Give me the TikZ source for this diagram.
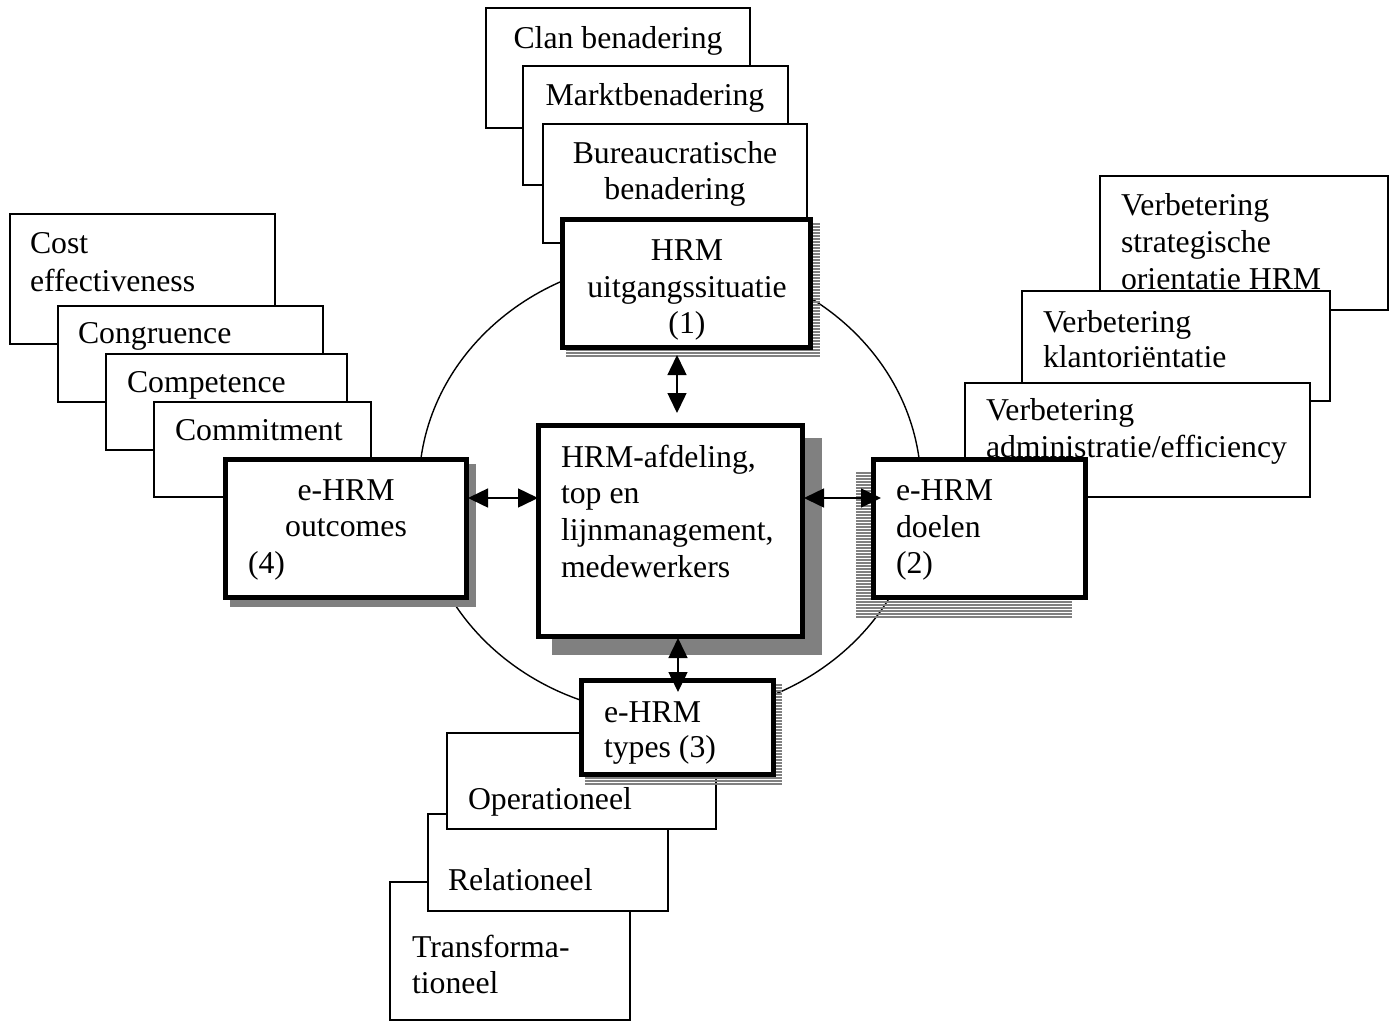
\documentclass[tikz,border=0pt]{standalone}
\usepackage{fontspec}
\setmainfont{Liberation Serif}
\usetikzlibrary{arrows.meta}
\newcommand\bigf{\fontsize{31.75}{36.5}\selectfont}
\newcommand\mystripes[4]{%
  \begin{scope}
    \clip (#1,#2) rectangle (#3,#4);
    \pgfmathsetmacro\ystart{#2+1}
    \pgfmathsetmacro\ynext{#2+4}
    \foreach \yy in {\ystart,\ynext,...,#4} {\draw[gray, line width=2pt] (#1,\yy) -- (#3,\yy);}
  \end{scope}}
\begin{document}
\begin{tikzpicture}[x=1pt,y=-1pt,
  thinbox/.style={draw, line width=1.4pt, fill=white, inner sep=0pt, outer sep=0pt, anchor=north west},
  thickbox/.style={draw, line width=5pt, fill=white, inner sep=0pt, outer sep=2.5pt, anchor=north west},
  solidshadow/.style={fill=gray},
  txt/.style={font=\bigf, inner sep=0pt, outer sep=0pt},
  lt/.style={txt, anchor=base west},
  ct/.style={txt, anchor=base},
  conn/.style={{Triangle[length=20pt,width=19pt]}-{Triangle[length=20pt,width=19pt]}, line width=1.5pt}
]
\useasboundingbox (0,0) rectangle (1398,1021);
\fill[white] (0,0) rectangle (1398,1021);

% circle
\draw[line width=1.4pt] (670,487) ellipse [x radius=251, y radius=228];

% top stack
\node[thinbox, minimum width=264, minimum height=120] (clan) at (486,8) {};
\node[ct] (tclan) at (618,48) {Clan benadering};
\node[thinbox, minimum width=265, minimum height=119] (markt) at (523,66) {};
\node[ct] (tmarkt) at (655,105) {Marktbenadering};
\node[thinbox, minimum width=264, minimum height=119] (bureau) at (543,124) {};
\node[ct] (tbur1) at (675,163) {Bureaucratische};
\node[ct] (tbur2) at (675,199) {benadering};
\mystripes{566}{223}{820}{356}
\node[thickbox, minimum width=248, minimum height=128] (hrm1) at (560,217) {};
\node[ct] (th1a) at (687,260) {HRM};
\node[ct] (th1b) at (687,297) {uitgangssituatie};
\node[ct] (th1c) at (687,333) {(1)};

% left stack
\node[thinbox, minimum width=265, minimum height=130] (cost) at (10,214) {};
\node[lt] (tcost1) at (30,253) {Cost};
\node[lt] (tcost2) at (30,291) {effectiveness};
\node[thinbox, minimum width=265, minimum height=96] (congr) at (58,306) {};
\node[lt] (tcongr) at (78,343) {Congruence};
\node[thinbox, minimum width=241, minimum height=96] (compet) at (106,354) {};
\node[lt] (tcompet) at (127,392) {Competence};
\node[thinbox, minimum width=217, minimum height=95] (commit) at (154,402) {};
\node[lt] (tcommit) at (175,440) {Commitment};
\fill[solidshadow] (230,464) rectangle (476,607);
\node[thickbox, minimum width=241, minimum height=138] (outcomes) at (223,457) {};
\node[ct] (to1) at (346,500) {e-HRM};
\node[ct] (to2) at (346,536) {outcomes};
\node[lt] (to3) at (248,573) {(4)};

% right stack
\node[thinbox, minimum width=288, minimum height=134] (strat) at (1100,176) {};
\node[lt] (ts1) at (1121,215) {Verbetering};
\node[lt] (ts2) at (1121,252) {strategische};
\node[lt] (ts3) at (1121,289) {orientatie HRM};
\node[thinbox, minimum width=308, minimum height=110] (klant) at (1022,291) {};
\node[lt] (tk1) at (1043,332) {Verbetering};
\node[lt] (tk2) at (1043,367) {klantoriëntatie};
\node[thinbox, minimum width=345, minimum height=114] (admin) at (965,383) {};
\node[lt] (ta1) at (986,420) {Verbetering};
\node[lt] (ta2) at (986,457) {administratie/efficiency};
\mystripes{856}{472}{1072}{617}
\node[thickbox, minimum width=212, minimum height=138] (doelen) at (871,457) {};
\node[lt] (td1) at (896,500) {e-HRM};
\node[lt] (td2) at (896,537) {doelen};
\node[lt] (td3) at (896,573) {(2)};

% center
\fill[solidshadow] (552,438) rectangle (822,655);
\node[thickbox, minimum width=264, minimum height=211] (center) at (536,423) {};
\node[lt] (tc1) at (561,467) {HRM-afdeling,};
\node[lt] (tc2) at (561,503) {top en};
\node[lt] (tc3) at (561,540) {lijnmanagement,};
\node[lt] (tc4) at (561,577) {medewerkers};

% bottom stack
\node[thinbox, minimum width=240, minimum height=138] (transf) at (390,882) {};
\node[lt] (ttr1) at (412,957) {Transforma-};
\node[lt] (ttr2) at (412,993) {tioneel};
\node[thinbox, minimum width=240, minimum height=97] (relat) at (428,814) {};
\node[lt] (trel) at (448,890) {Relationeel};
\node[thinbox, minimum width=269, minimum height=96] (operat) at (447,733) {};
\node[lt] (top) at (468,809) {Operationeel};
\mystripes{585}{684}{782}{784}
\node[thickbox, minimum width=192, minimum height=94] (types) at (579,678) {};
\node[lt] (tty1) at (604,722) {e-HRM};
\node[lt] (tty2) at (604,757) {types (3)};

% connectors
\draw[conn] ([xshift=-9.5pt,yshift=-5pt]hrm1.south) -- ([xshift=6.5pt,yshift=10pt]center.north);
\draw[conn] ([xshift=-1pt,yshift=30.5pt]outcomes.east) -- ([xshift=2pt,yshift=33pt]center.west);
\draw[conn] ([xshift=-1pt,yshift=33pt]center.east) -- ([xshift=10pt,yshift=30.5pt]doelen.west);
\draw[conn] ([xshift=7.5pt,yshift=1pt]center.south) -- ([xshift=0.5pt,yshift=-14pt]types.north);
\end{tikzpicture}
\end{document}
